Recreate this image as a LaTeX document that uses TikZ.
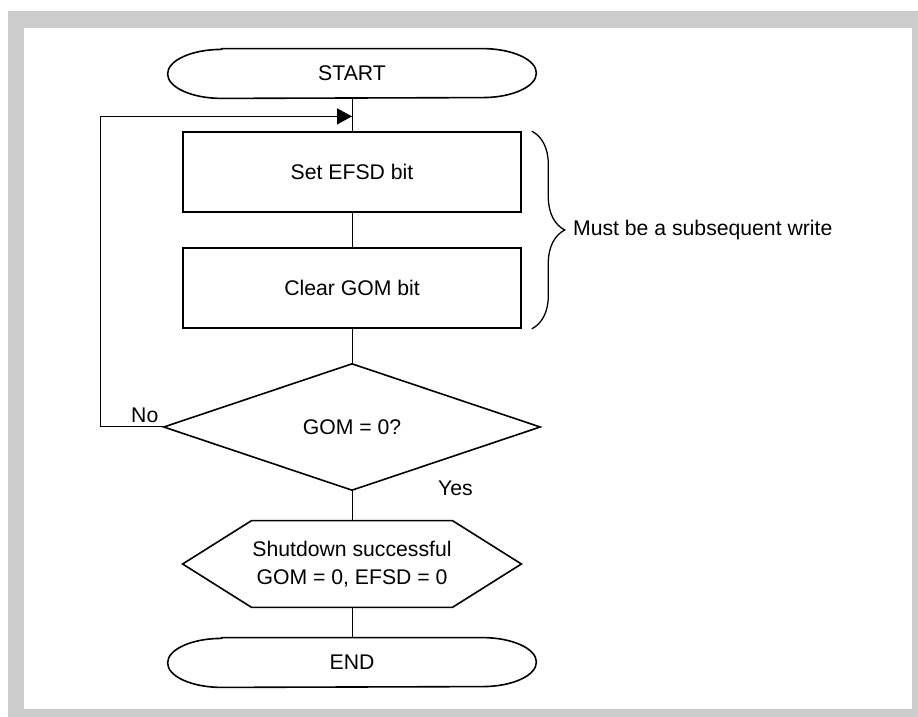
\documentclass[tikz,border=0pt]{standalone}
\usepackage{fontspec}
\setmainfont{Liberation Sans}
\usepackage{tikz}
\usetikzlibrary{arrows.meta,positioning,shapes.geometric,decorations.pathreplacing}

\tikzset{
  every node/.style={font=\fontsize{10.6pt}{14pt}\selectfont},
  terminal/.style={minimum width=184pt, minimum height=24.5pt, inner sep=0pt},
  process/.style={draw, line width=0.8pt, minimum width=169pt, minimum height=40pt},
  decision/.style={diamond, draw, line width=0.8pt, minimum width=188.5pt,
    minimum height=63.5pt, inner sep=0pt},
  result/.style={minimum width=169pt, minimum height=43pt, inner sep=0pt, align=center},
  flow/.style={line width=0.5pt},
  outline/.style={line width=0.8pt}
}
% oval ends for START / END
\newcommand{\termoutline}[1]{%
  \draw[outline] ([xshift=27pt]#1.north west) -- ([xshift=-27pt]#1.north east)
    arc[start angle=90, end angle=-90, x radius=27pt, y radius=12.25pt]
    -- ([xshift=27pt]#1.south west)
    arc[start angle=270, end angle=90, x radius=27pt, y radius=12.25pt] -- cycle;}
% pointed box for the end state
\newcommand{\hexoutline}[1]{%
  \draw[outline] ([xshift=34.5pt]#1.north west) -- ([xshift=-34.5pt]#1.north east)
    -- (#1.east) -- ([xshift=-34.5pt]#1.south east) -- ([xshift=34.5pt]#1.south west)
    -- (#1.west) -- cycle;}

\begin{document}
\begin{tikzpicture}[x=0.5pt,y=0.5pt,>={Triangle[length=7.5pt,width=8pt]}]
% frame
\fill[black!20] (8,-11) rectangle (918,-717);
\fill[white] (24,-28) rectangle (912,-709);
\useasboundingbox (0,0) rectangle (918,-717);

\node (start) [terminal] at (352,-73.5) {START};
\node (set) [process, below of=start, node distance=49.25pt] {Set EFSD bit};
\node (clear) [process, below of=set, node distance=58pt] {Clear GOM bit};
\node (gom) [decision, below of=clear, node distance=69.5pt] {GOM = 0?};
\node (final) [result, below of=gom, node distance=68.5pt] {Shutdown successful\\GOM = 0, EFSD = 0};
\node (end) [terminal, below of=final, node distance=49.25pt] {END};
\termoutline{start}
\termoutline{end}
\hexoutline{final}

\coordinate [below=9pt of start] (join);
\draw[flow] (start) -- (set);
\draw[flow] (set) -- (clear);
\draw[flow] (clear) -- (gom);
\draw[flow] (gom) -- (final);
\draw[flow] (final) -- (end);
\draw[flow,->] (gom.west) -- ++(-31pt,0) |- (join);

\node (no) [anchor=south east, inner sep=2pt] at (gom.west) {No};
\node (yes) [right=39.5pt of gom.south, yshift=1.5pt] {Yes};

\draw[line width=0.65pt, decorate, decoration={brace, amplitude=16.5pt}]
  ([xshift=5pt]set.north east) -- node[right=17pt] (note) {Must be a subsequent write}
  ([xshift=5pt]clear.south east);
\end{tikzpicture}
\end{document}
